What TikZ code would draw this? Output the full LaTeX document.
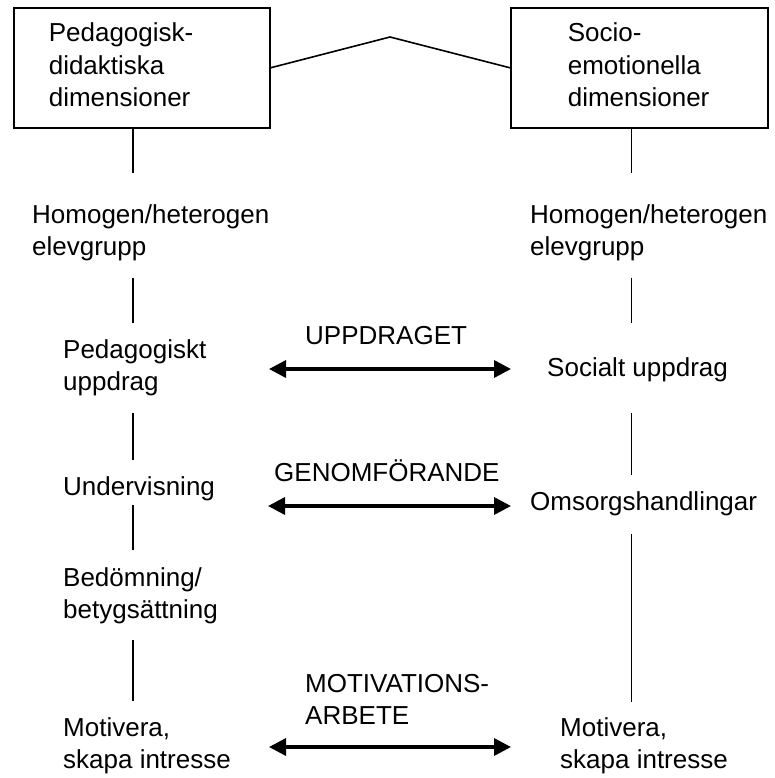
\documentclass[tikz,border=0pt]{standalone}
\usepackage{fontspec}
\setmainfont{Liberation Sans}
\usetikzlibrary{arrows.meta}
% left-aligned block whose anchor sits on the first baseline
\newcommand{\txtblock}[1]{\begin{tabular}[t]{@{}l@{}}#1\end{tabular}}
\tikzset{
  every node/.style={font=\fontsize{26}{32.5}\selectfont},
  dimbox/.style={draw, line width=1.6pt, anchor=north west, inner ysep=0pt,
                 minimum height=120pt, align=left},
  lbl/.style={anchor=base west, inner sep=0pt},
  link/.style={line width=1.4pt},
  twoway/.style={line width=3.4pt,
                 {Triangle[length=17pt,width=17pt]}-{Triangle[length=17pt,width=17pt]}},
}
\begin{document}
\begin{tikzpicture}[x=1pt,y=-1pt]
\useasboundingbox (0,0) rectangle (774,778);

% the two dimension boxes and the joint between them
\node[dimbox, inner xsep=35pt, text width=186pt] (pedbox) at (13,7)
  {\txtblock{Pedagogisk-\\didaktiska\\dimensioner}};
\node[dimbox, inner xsep=57pt, text width=143pt] (sebox) at (510,7)
  {\txtblock{Socio-\\emotionella\\dimensioner}};
\coordinate (peak) at (390,37);
\draw[line width=1.6pt, line join=miter] (pedbox.east) -- (peak) -- (sebox.west);

% column axes
\coordinate (colL) at (133,0);
\coordinate (colR) at (631.5,0);

% left column
\node[lbl] (homL) at (32,223) {\txtblock{Homogen/heterogen\\elevgrupp}};
\node[lbl] (pedU) at (63,358) {\txtblock{Pedagogiskt\\uppdrag}};
\node[lbl] (und)  at (63,495) {\txtblock{Undervisning}};
\node[lbl] (bed)  at (63,586) {\txtblock{Bedömning/\\betygsättning}};
\node[lbl] (motL) at (63,736) {\txtblock{Motivera,\\skapa intresse}};

% right column
\node[lbl] (homR) at (530,223) {\txtblock{Homogen/heterogen\\elevgrupp}};
\node[lbl] (soc)  at (547,376) {\txtblock{Socialt uppdrag}};
\node[lbl] (oms)  at (530,510) {\txtblock{Omsorgshandlingar}};
\node[lbl] (motR) at (560,736) {\txtblock{Motivera,\\skapa intresse}};

% middle labels
\node[lbl] (uppd) at (305,344) {\txtblock{UPPDRAGET}};
\node[lbl] (genf) at (274,481) {\txtblock{GENOMFÖRANDE}};
\node[lbl] (mota) at (305,692) {\txtblock{MOTIVATIONS-\\ARBETE}};

% vertical links, left
\draw[link, shorten >=27.25pt] (colL |- pedbox.south) -- (colL |- homL.north);
\draw[link, shorten <=12.25pt, shorten >=12.25pt] (colL |- homL.south) -- (colL |- pedU.north);
\draw[link, shorten <=12.75pt, shorten >=12.25pt] (colL |- pedU.south) -- (colL |- und.north);
\draw[link, shorten >=13.25pt] (colL |- und.south) -- (colL |- bed.north);
\draw[link, shorten <=11.75pt, shorten >=12.25pt] (colL |- bed.south) -- (colL |- motL.north);

% vertical links, right
\draw[link, shorten >=27.25pt] (colR |- sebox.south) -- (colR |- homR.north);
\draw[link, shorten <=12.25pt, shorten >=30.25pt] (colR |- homR.south) -- (colR |- soc.north);
\draw[link, shorten <=27.25pt, shorten >=12.25pt] (colR |- soc.south) -- (colR |- oms.north);
\draw[link, shorten <=14.25pt, shorten >=11.25pt] (colR |- oms.south) -- (colR |- motR.north);

% two-way arrows between the columns
\coordinate (upL) at (269,369);  \coordinate (upR) at (511,369);
\coordinate (geL) at (268,506);  \coordinate (geR) at (511,506);
\coordinate (moL) at (269,747);  \coordinate (moR) at (511,747);
\draw[twoway] (upL) -- (upR);
\draw[twoway] (geL) -- (geR);
\draw[twoway] (moL) -- (moR);
\end{tikzpicture}
\end{document}
